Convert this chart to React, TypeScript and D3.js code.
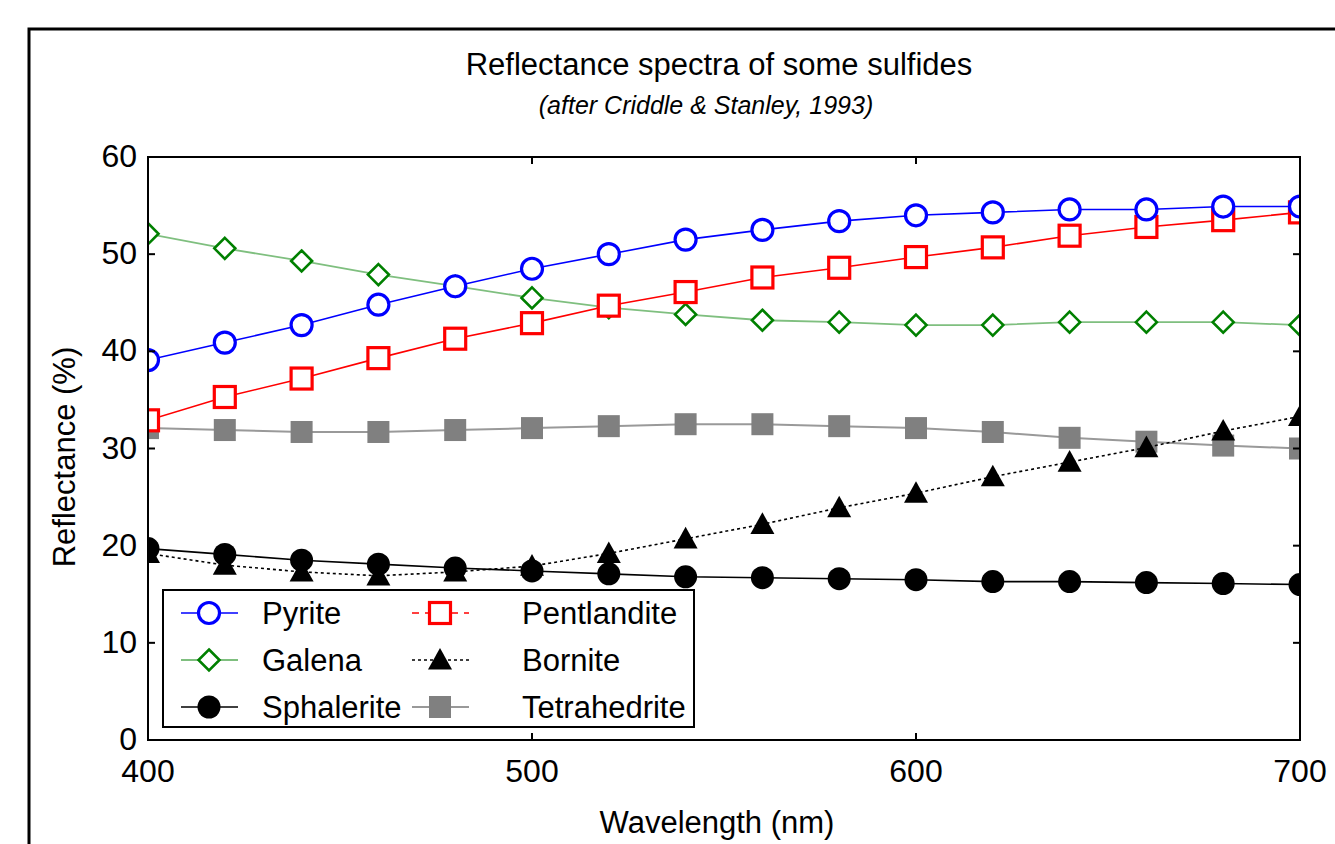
import React from 'react';
import * as d3 from 'd3';

const wavelengths = [400, 420, 440, 460, 480, 500, 520, 540, 560, 580, 600, 620, 640, 660, 680, 700];
const pyrite = [39.1, 40.9, 42.7, 44.8, 46.7, 48.5, 50.0, 51.5, 52.5, 53.4, 54.0, 54.3, 54.6, 54.6, 54.9, 54.9];
const pentlandite = [32.9, 35.3, 37.2, 39.3, 41.3, 42.9, 44.7, 46.1, 47.6, 48.6, 49.7, 50.7, 51.9, 52.8, 53.5, 54.3];
const galena = [52.1, 50.6, 49.3, 47.9, 46.7, 45.5, 44.5, 43.8, 43.2, 43.0, 42.7, 42.7, 43.0, 43.0, 43.0, 42.7];
const bornite = [19.2, 18.0, 17.3, 16.9, 17.3, 17.9, 19.2, 20.7, 22.2, 23.9, 25.4, 27.1, 28.6, 30.1, 31.8, 33.3];
const sphalerite = [19.7, 19.1, 18.5, 18.1, 17.7, 17.4, 17.1, 16.8, 16.7, 16.6, 16.5, 16.3, 16.3, 16.2, 16.1, 16.0];
const tetrahedrite = [32.1, 31.9, 31.7, 31.7, 31.9, 32.1, 32.3, 32.5, 32.5, 32.3, 32.1, 31.7, 31.1, 30.7, 30.3, 30.0];

const xTicks = [400, 500, 600, 700];
const yTicks = [0, 10, 20, 30, 40, 50, 60];

type Marker = 'circle' | 'square' | 'diamond' | 'triangle';

interface Series {
  name: string;
  values: number[];
  line: string;
  lineWidth: number;
  dash?: string;
  marker: Marker;
  markerFill: string;
  markerStroke: string;
}

const series: Series[] = [
  { name: 'Tetrahedrite', values: tetrahedrite, line: '#999999', lineWidth: 2, marker: 'square', markerFill: '#808080', markerStroke: 'none' },
  { name: 'Sphalerite', values: sphalerite, line: '#000000', lineWidth: 1.6, marker: 'circle', markerFill: '#000000', markerStroke: 'none' },
  { name: 'Bornite', values: bornite, line: '#000000', lineWidth: 1.6, dash: '3,3', marker: 'triangle', markerFill: '#000000', markerStroke: 'none' },
  { name: 'Galena', values: galena, line: '#7fbf7f', lineWidth: 1.8, marker: 'diamond', markerFill: '#ffffff', markerStroke: '#008000' },
  { name: 'Pentlandite', values: pentlandite, line: '#ff0000', lineWidth: 1.6, marker: 'square', markerFill: '#ffffff', markerStroke: '#ff0000' },
  { name: 'Pyrite', values: pyrite, line: '#0000ff', lineWidth: 1.6, marker: 'circle', markerFill: '#ffffff', markerStroke: '#0000ff' },
];

const legendOrder = ['Pyrite', 'Pentlandite', 'Galena', 'Bornite', 'Sphalerite', 'Tetrahedrite'];

const W = 1335;
const H = 844;
const FONT = '"Liberation Sans", Arial, sans-serif';

const x = d3.scaleLinear().domain([400, 700]).range([148, 1300]);
const y = d3.scaleLinear().domain([0, 60]).range([740, 157]);

function MarkerShape({ s, cx, cy }: { s: Series; cx: number; cy: number }) {
  const open = s.markerStroke !== 'none';
  const sw = open ? 3.2 : 0;
  if (s.marker === 'circle') {
    return <circle cx={cx} cy={cy} r={open ? 10.5 : 11.5} fill={s.markerFill} stroke={s.markerStroke} strokeWidth={sw} />;
  }
  if (s.marker === 'square') {
    const h = open ? 10.5 : 11;
    return <rect x={cx - h} y={cy - h} width={2 * h} height={2 * h} fill={s.markerFill} stroke={s.markerStroke} strokeWidth={sw} />;
  }
  if (s.marker === 'diamond') {
    const h = 10.5;
    return <path d={`M${cx},${cy - h}L${cx + h},${cy}L${cx},${cy + h}L${cx - h},${cy}Z`} fill={s.markerFill} stroke={s.markerStroke} strokeWidth={2.6} />;
  }
  const h = 12;
  return <path d={`M${cx},${cy - h}L${cx + h},${cy + h * 0.8}L${cx - h},${cy + h * 0.8}Z`} fill={s.markerFill} />;
}

export default function App() {
  const line = d3.line<number>()
    .x((_, i) => x(wavelengths[i]))
    .y(d => y(d));

  const byName = (n: string) => series.find(s => s.name === n)!;

  return (
    <div style={{ position: 'absolute', left: 0, top: 0 }}>
      <svg width={W} height={H} style={{ display: 'block', background: '#fff' }} fontFamily={FONT}>
        {/* outer frame */}
        <rect x={29} y={29} width={W} height={H} fill="none" stroke="#000" strokeWidth={3} />

        <text x={719} y={75} textAnchor="middle" fontSize={31}>Reflectance spectra of some sulfides</text>
        <text x={706} y={114} textAnchor="middle" fontSize={25} fontStyle="italic">(after Criddle &amp; Stanley, 1993)</text>

        <defs>
          <clipPath id="plot">
            <rect x={148} y={157} width={1152} height={583} />
          </clipPath>
        </defs>

        <g clipPath="url(#plot)">
          {series.map(s => (
            <g key={s.name}>
              <path d={line(s.values) || ''} fill="none" stroke={s.line} strokeWidth={s.lineWidth} strokeDasharray={s.dash} />
              {s.values.map((v, i) => (
                <MarkerShape key={i} s={s} cx={x(wavelengths[i])} cy={y(v)} />
              ))}
            </g>
          ))}
        </g>

        {/* plot box */}
        <rect x={148} y={157} width={1152} height={583} fill="none" stroke="#000" strokeWidth={2} />

        {yTicks.map(t => (
          <g key={t}>
            <line x1={148} x2={155} y1={y(t)} y2={y(t)} stroke="#000" strokeWidth={2} />
            <line x1={1293} x2={1300} y1={y(t)} y2={y(t)} stroke="#000" strokeWidth={2} />
            <text x={137} y={y(t) + 10} textAnchor="end" fontSize={32}>{t}</text>
          </g>
        ))}
        {xTicks.map(t => (
          <g key={t}>
            <line x1={x(t)} x2={x(t)} y1={740} y2={733} stroke="#000" strokeWidth={2} />
            <line x1={x(t)} x2={x(t)} y1={157} y2={164} stroke="#000" strokeWidth={2} />
            <text x={x(t)} y={782} textAnchor="middle" fontSize={32}>{t}</text>
          </g>
        ))}

        <text x={717} y={833} textAnchor="middle" fontSize={31}>Wavelength (nm)</text>
        <text transform="translate(75,457) rotate(-90)" textAnchor="middle" fontSize={31}>Reflectance (%)</text>

        {/* legend */}
        <rect x={163} y={590} width={531} height={137} fill="#fff" stroke="#000" strokeWidth={2} />
        {legendOrder.map((n, i) => {
          const s = byName(n);
          const col = i % 2;
          const row = Math.floor(i / 2);
          const lx = col === 0 ? 181 : 412;
          const cx = lx + 28;
          const cy = 613 + row * 47;
          const tx = col === 0 ? 262 : 522;
          const dash = s.name === 'Pentlandite' ? '7,6' : s.dash;
          return (
            <g key={n}>
              <line x1={lx} x2={lx + 57} y1={cy} y2={cy} stroke={s.line} strokeWidth={s.lineWidth} strokeDasharray={dash} />
              <MarkerShape s={s} cx={cx} cy={cy} />
              <text x={tx} y={cy + 11} fontSize={31}>{n}</text>
            </g>
          );
        })}
      </svg>
    </div>
  );
}
